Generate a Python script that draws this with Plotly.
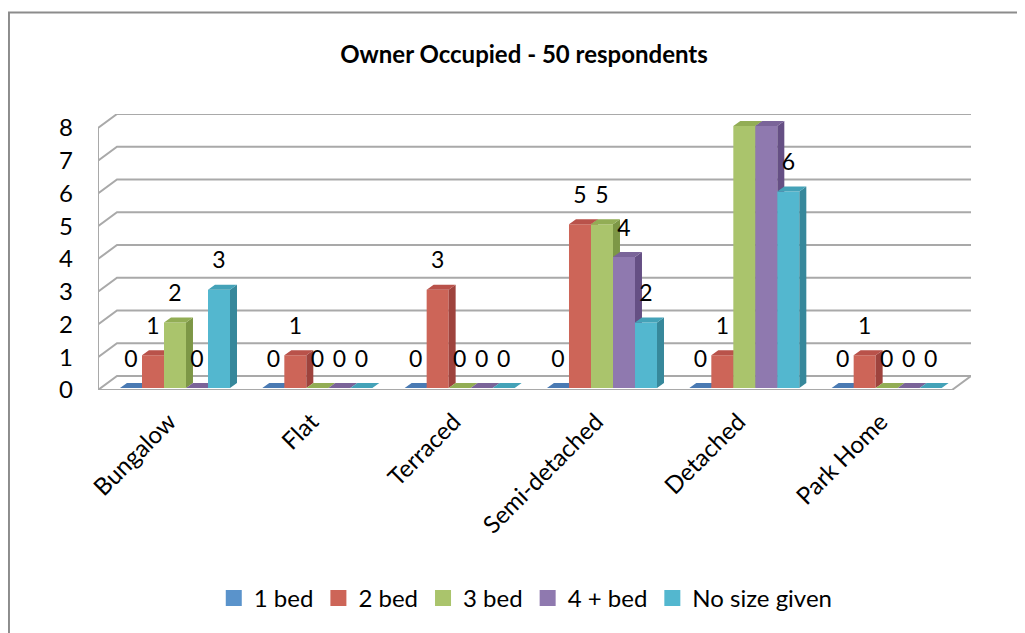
import plotly.graph_objects as go

# ---------------- data ----------------
categories = ["Bungalow", "Flat", "Terraced", "Semi-detached", "Detached", "Park Home"]
series_names = ["1 bed", "2 bed", "3 bed", "4 + bed", "No size given"]
bed1 = [0, 0, 0, 0, 0, 0]
bed2 = [1, 1, 3, 5, 1, 1]
bed3 = [2, 0, 0, 5, 8, 0]
bed4 = [0, 0, 0, 4, 8, 0]
nosize = [3, 0, 0, 2, 6, 0]
y_ticks = [0, 1, 2, 3, 4, 5, 6, 7, 8]
title_text = "Owner Occupied - 50 respondents"

series_values = [bed1, bed2, bed3, bed4, nosize]

# ---------------- styles ----------------
front_cols = ["#5B8CC4", "#CD6558", "#AAC46C", "#8F79AF", "#53B7CF"]
top_cols = ["#4A7AB3", "#B9524A", "#92AD55", "#7A6499", "#44A2B8"]
side_cols = ["#3E6898", "#9E433D", "#7D9746", "#654F84", "#37889B"]
legend_cols = ["#5A93CB", "#CD6558", "#AAC46C", "#8F79AF", "#53B7CF"]
grid_col = "#A9A9A9"
FONT = "Lato, 'Open Sans', sans-serif"
FS = 24

# geometry (in data units)
DX, DY = 0.1335, 0.4275        # wall depth offset
BW = 0.1546                    # bar width
LEFT = 0.1335                  # gap from category boundary to first bar
FX, FY = 0.021, 0.06           # bar front-plane offset
BDX, BDY = 0.049, 0.153        # bar depth
LABEL_OFF = 0.83
YMAX = max(y_ticks)
ncat = len(categories)

fig = go.Figure()

def line(xs, ys):
    fig.add_trace(go.Scatter(x=xs, y=ys, mode="lines", line=dict(color=grid_col, width=2),
                             hoverinfo="skip", showlegend=False, cliponaxis=False))

# back wall grid + left wall diagonals
xs, ys = [], []
for t in y_ticks:
    xs += [-0.5, -0.5 + DX, ncat - 0.5 + DX, None]
    ys += [t, t + DY, t + DY, None]
line(xs, ys)
# front vertical axis + tick marks
xs = [-0.5, -0.5, None]
ys = [0, YMAX, None]
for t in y_ticks:
    xs += [-0.5 - 0.05, -0.5, None]
    ys += [t, t, None]
line(xs, ys)
# floor front edge, right side edge and category ticks
xs = [-0.5, ncat - 0.5, ncat - 0.5 + DX, None]
ys = [0, 0, DY, None]
for i in range(ncat + 1):
    xs += [i - 0.5, i - 0.5, None]
    ys += [0, -0.25, None]
line(xs, ys)

# bars as polygons (front, top, side) in series order for correct overlap
for j, (name, vals) in enumerate(zip(series_names, series_values)):
    fx, fy, tx, ty, sx, sy = [], [], [], [], [], []
    lx, ly, lt = [], [], []
    for i, v in enumerate(vals):
        xl = i - 0.5 + LEFT + j * BW + FX
        xr = xl + BW
        yb = FY
        yt = FY + v
        if v > 0:
            fx += [xl, xr, xr, xl, xl, None]
            fy += [yb, yb, yt, yt, yb, None]
            sx += [xr, xr + BDX, xr + BDX, xr, xr, None]
            sy += [yb, yb + BDY, yt + BDY, yt, yb, None]
        tx += [xl, xr, xr + BDX, xl + BDX, xl, None]
        ty += [yt, yt, yt + BDY, yt + BDY, yt, None]
        lx.append((xl + xr) / 2)
        ly.append(yt + LABEL_OFF)
        lt.append(str(v))
    if fx:
        fig.add_trace(go.Scatter(x=fx, y=fy, fill="toself", fillcolor=front_cols[j], mode="none",
                                 hoverinfo="skip", showlegend=False))
        fig.add_trace(go.Scatter(x=sx, y=sy, fill="toself", fillcolor=side_cols[j], mode="none",
                                 hoverinfo="skip", showlegend=False))
    fig.add_trace(go.Scatter(x=tx, y=ty, fill="toself", fillcolor=top_cols[j], mode="none",
                             hoverinfo="skip", showlegend=False))
    fig.add_trace(go.Scatter(x=lx, y=ly, mode="text", text=lt, cliponaxis=False,
                             textfont=dict(family=FONT, size=FS - 1, color="black"),
                             hoverinfo="skip", showlegend=False))

# legend entries
for j, name in enumerate(series_names):
    fig.add_trace(go.Scatter(x=[None], y=[None], name=name, mode="markers",
                             marker=dict(symbol="square", size=16, color=legend_cols[j])))

fig.update_layout(
    width=1025, height=633,
    paper_bgcolor="white", plot_bgcolor="white",
    margin=dict(l=90, r=62, t=106, b=251, autoexpand=False),
    title=dict(text=title_text, x=0.5034, xanchor="center", y=0.926, yanchor="middle",
               font=dict(family=FONT, size=FS, color="black", weight="bold")),
    font=dict(family=FONT, size=FS, color="black"),
    showlegend=True,
    legend=dict(orientation="h", x=0.49, xanchor="center", y=-0.755, yanchor="middle",
                font=dict(family=FONT, size=FS), itemwidth=30, traceorder="normal"),
    xaxis=dict(range=[-0.5, ncat - 0.5 + DX], showgrid=False, zeroline=False, showline=False,
               tickmode="array", tickvals=list(range(ncat)), ticktext=categories,
               tickangle=-45, ticks="", ticklabelstandoff=12, fixedrange=True, automargin=False),
    yaxis=dict(range=[0, YMAX + DY], showgrid=False, zeroline=False, showline=False,
               tickmode="array", tickvals=y_ticks, ticks="", ticklabelstandoff=24, fixedrange=True,
               automargin=False),
    shapes=[dict(type="rect", xref="paper", yref="paper", x0=-0.102, y0=-1.2, x1=1.3, y1=1.368,
                 line=dict(color="#8C8C8C", width=2), fillcolor="rgba(0,0,0,0)", layer="below")],
)

fig.write_html("out.html")
